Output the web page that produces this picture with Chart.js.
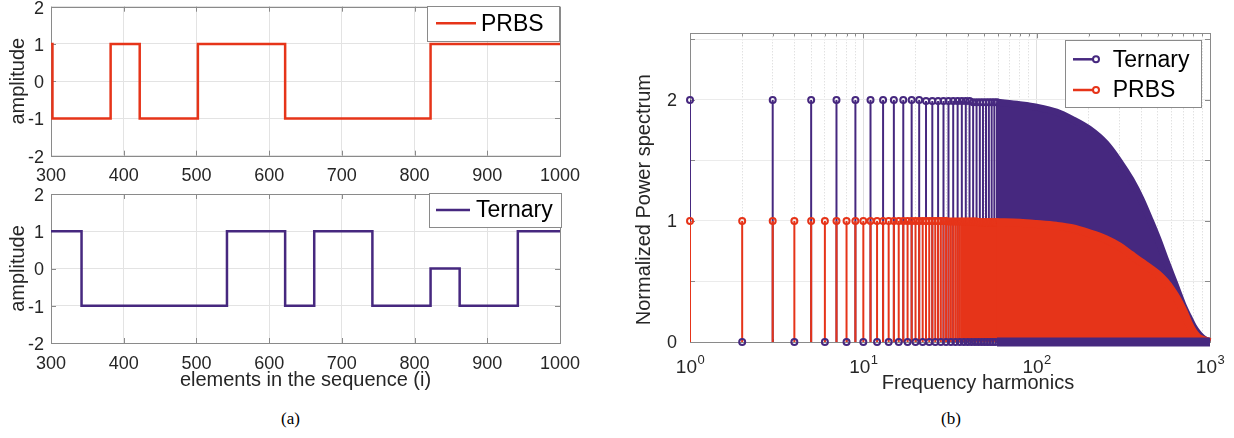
<!DOCTYPE html>
<html>
<head>
<meta charset="utf-8">
<script src="https://cdn.jsdelivr.net/npm/chart.js@4.4.1/dist/chart.umd.min.js"></script>
<style>
  body { margin: 0; background: #fff; width: 1234px; height: 438px; position: relative; overflow: hidden; }
  .pane { position: absolute; }
  .cap { position: absolute; font-family: "Liberation Serif", "Times New Roman", serif; font-size: 17px; color: #000; }
</style>
</head>
<body>
<div class="pane" style="left:0;top:0;width:590px;height:186px"><canvas id="prbsChart"></canvas></div>
<div class="pane" style="left:0;top:186px;width:590px;height:214px"><canvas id="ternaryChart"></canvas></div>
<div class="pane" style="left:600px;top:0;width:634px;height:400px"><canvas id="spectrumChart"></canvas></div>
<div class="cap" style="left:281px;top:409px">(a)</div>
<div class="cap" style="left:941px;top:409px">(b)</div>

<script>
// =======================
// DATA
// =======================
const prbsSwitchX = [300, 302, 382, 422, 502, 622, 822, 1000];
const prbsLevel   = [1, -1, 1, -1, 1, -1, 1, 1];

const ternarySwitchX = [300, 342, 542, 622, 662, 742, 822, 862, 942, 1000];
const ternaryLevel   = [1, -1, 1, -1, 1, -1, 0, -1, 1, 1];

const sequenceTicks  = [300, 400, 500, 600, 700, 800, 900, 1000];
const amplitudeTicks = [-2, -1, 0, 1, 2];

// harmonics where single stems can still be told apart
const lowHarmonics = [
  1, 2, 3, 4, 5, 6, 7, 8, 9, 10,
  11, 12, 13, 14, 15, 16, 17, 18, 19, 20,
  21, 22, 23, 24, 25, 26, 27, 28, 29, 30,
  31, 32, 33, 34, 35, 36, 37, 38, 39, 40,
  41, 42, 43, 44, 45, 46, 47, 48, 49, 50,
  51, 52, 53, 54, 55, 56, 57, 58, 59
];
const ternaryLow = [
  2, 0, 2, 0, 2, 0, 2, 0, 2, 0,
  2, 0, 2, 0, 2, 0, 2, 0, 2, 0,
  2, 0, 1.99, 0, 1.99, 0, 1.99, 0, 1.99, 0,
  1.99, 0, 1.99, 0, 1.99, 0, 1.99, 0, 1.99, 0,
  1.99, 0, 1.98, 0, 1.98, 0, 1.98, 0, 1.98, 0,
  1.98, 0, 1.98, 0, 1.98, 0, 1.98, 0, 1.98
];
const prbsLow = [
  1, 1, 1, 1, 1, 1, 1, 1, 1, 1,
  1, 1, 1, 1, 1, 1, 1, 1, 1, 1,
  1, 1, 1, 1, 1, 1, 1, 1, 1, 1,
  0.995, 0.995, 0.995, 0.995, 0.995, 0.995, 0.995, 0.995, 0.995, 0.995,
  0.995, 0.995, 0.995, 0.995, 0.995, 0.99, 0.99, 0.99, 0.99, 0.99,
  0.99, 0.99, 0.99, 0.99, 0.99, 0.99, 0.99, 0.99, 0.99
];

// dense part: stems merge, read as the envelope of their tops
const envelopeHarmonics = [59, 80, 100, 130, 160, 200, 250, 300, 350, 400, 450, 500, 550, 600, 650, 700, 750, 800, 850, 900, 950, 1000];
const ternaryEnvelope   = [1.98, 1.96, 1.94, 1.90, 1.84, 1.76, 1.64, 1.49, 1.34, 1.18, 1.01, 0.85, 0.69, 0.55, 0.42, 0.30, 0.21, 0.13, 0.075, 0.036, 0.012, 0];
const prbsEnvelope      = [0.99, 0.985, 0.975, 0.96, 0.94, 0.90, 0.85, 0.79, 0.72, 0.66, 0.61, 0.56, 0.50, 0.43, 0.35, 0.26, 0.16, 0.085, 0.04, 0.02, 0.01, 0];
const ternaryEvenLevel  = [0, 0, 0, 0, 0, 0, 0, 0, 0, 0, 0, 0, 0, 0, 0, 0, 0, 0, 0, 0, 0, 0];

const harmonicTicks = [1, 2, 3, 4, 5, 6, 7, 8, 9, 10, 20, 30, 40, 50, 60, 70, 80, 90,
                       100, 200, 300, 400, 500, 600, 700, 800, 900, 1000];
const decadeExponents = [0, 1, 2, 3];
const powerTicks = [0, 0.5, 1, 1.5, 2, 2.5];

// =======================
// STYLE
// =======================
const PURPLE = "#46287f";
const RED = "#e63419";
const GRID = "#e3e3e3";
const FRAME = "#8a8a8a";
const TEXT = "#262626";
const FONT = '"Liberation Sans", Arial, sans-serif';

Chart.defaults.font.family = FONT;
Chart.defaults.color = TEXT;
Chart.defaults.animation = false;

const isDecade = v => Math.abs(Math.log10(v) - Math.round(Math.log10(v))) < 1e-9;

// box round the axes with inward ticks
const axesFrame = {
  id: "axesFrame",
  beforeDatasetsDraw(chart) {
    const { ctx, chartArea: a, scales: { x, y } } = chart;
    const isLog = x.type === "logarithmic";
    ctx.save();
    ctx.strokeStyle = FRAME;
    ctx.lineWidth = 1;
    ctx.strokeRect(Math.round(a.left) + 0.5, Math.round(a.top) + 0.5, Math.round(a.width), Math.round(a.height));
    ctx.beginPath();
    x.ticks.forEach(t => {
      const px = Math.round(x.getPixelForValue(t.value)) + 0.5;
      const len = isLog && !isDecade(t.value) ? 3 : 5;
      ctx.moveTo(px, a.bottom); ctx.lineTo(px, a.bottom - len);
      ctx.moveTo(px, a.top); ctx.lineTo(px, a.top + len);
    });
    y.ticks.forEach(t => {
      const py = Math.round(y.getPixelForValue(t.value)) + 0.5;
      ctx.moveTo(a.left, py); ctx.lineTo(a.left + 5, py);
      ctx.moveTo(a.right, py); ctx.lineTo(a.right - 5, py);
    });
    ctx.stroke();
    ctx.restore();
  }
};

function makeLegend(cfg) {
  return {
    id: "boxLegend",
    afterDraw(chart) {
      const { ctx, chartArea: a } = chart;
      const x = a.right - cfg.right - cfg.width;
      const y = a.top + cfg.top;
      ctx.save();
      ctx.fillStyle = "#fff";
      ctx.fillRect(x, y, cfg.width, cfg.height);
      ctx.strokeStyle = FRAME;
      ctx.lineWidth = 1;
      ctx.strokeRect(Math.round(x) + 0.5, Math.round(y) + 0.5, cfg.width, cfg.height);
      ctx.font = "23px " + FONT;
      ctx.textBaseline = "middle";
      cfg.items.forEach((it, i) => {
        const cy = y + cfg.rowTop + i * cfg.rowGap;
        ctx.strokeStyle = it.color;
        ctx.lineWidth = 2.5;
        ctx.beginPath();
        ctx.moveTo(x + cfg.lineX0, cy);
        ctx.lineTo(x + cfg.lineX1, cy);
        ctx.stroke();
        if (cfg.marker) {
          ctx.lineWidth = 2;
          ctx.fillStyle = "#fff";
          ctx.beginPath();
          ctx.arc(x + cfg.lineX1, cy, 3, 0, Math.PI * 2);
          ctx.fill();
          ctx.stroke();
        }
        ctx.fillStyle = "#000";
        ctx.fillText(it.label, x + cfg.textX, cy + 1);
      });
      ctx.restore();
    }
  };
}

// 10^n labels and axis titles of the spectrum panel
const spectrumText = {
  id: "spectrumText",
  afterDraw(chart) {
    const { ctx, chartArea: a } = chart;
    const xs = chart.scales.x;
    const base = a.bottom + 31;
    ctx.save();
    ctx.fillStyle = TEXT;
    ctx.textBaseline = "alphabetic";
    decadeExponents.forEach(e => {
      const px = xs.getPixelForValue(Math.pow(10, e));
      ctx.font = "19px " + FONT;
      const w1 = ctx.measureText("10").width;
      ctx.font = "13px " + FONT;
      const w2 = ctx.measureText(String(e)).width;
      const x0 = px - (w1 + w2) / 2;
      ctx.font = "19px " + FONT;
      ctx.fillText("10", x0, base);
      ctx.font = "13px " + FONT;
      ctx.fillText(String(e), x0 + w1 + 0.5, base - 9);
    });
    ctx.font = "20px " + FONT;
    ctx.textAlign = "center";
    ctx.textBaseline = "middle";
    ctx.fillText("Frequency harmonics", a.left + a.width / 2 + 28, a.bottom + 41);
    ctx.translate(44.5, a.top + a.height / 2 + 12);
    ctx.rotate(-Math.PI / 2);
    ctx.fillText("Normalized Power spectrum", 0, 0);
    ctx.restore();
  }
};

const toPoints = (xs, ys) => xs.map((x, i) => ({ x, y: ys[i] }));

function stemPoints(ks, vs) {
  const pts = [];
  ks.forEach((k, i) => {
    if (vs[i] > 0) pts.push({ x: k, y: 0 }, { x: k, y: vs[i] }, { x: k, y: null });
  });
  return pts;
}

// =======================
// TIME SIGNALS
// =======================
function stepChart(id, switchX, level, color, legendCfg, withXTitle, xAxisHeight, titlePad) {
  return new Chart(document.getElementById(id), {
    type: "scatter",
    data: {
      datasets: [{
        data: toPoints(switchX, level),
        showLine: true,
        stepped: "before",
        borderColor: color,
        borderWidth: 2.5,
        pointRadius: 0
      }]
    },
    options: {
      responsive: true,
      maintainAspectRatio: false,
      layout: { padding: { top: withXTitle ? 8 : 6.7, right: 30, left: 0, bottom: 0 } },
      plugins: { legend: { display: false }, tooltip: { enabled: false } },
      scales: {
        x: {
          type: "linear",
          min: 300, max: 1000,
          afterBuildTicks: s => { s.ticks = sequenceTicks.map(v => ({ value: v })); },
          afterFit: s => { s.height = xAxisHeight; s.paddingLeft = 0; s.paddingRight = 0; },
          ticks: { padding: 10, autoSkip: false, maxRotation: 0, font: { size: 18 }, callback: v => String(v) },
          grid: { color: GRID, drawTicks: false },
          border: { display: false },
          title: {
            display: withXTitle,
            text: "elements in the sequence (i)",
            font: { size: 20 },
            padding: { top: 0, bottom: titlePad }
          }
        },
        y: {
          min: -2, max: 2,
          afterBuildTicks: s => { s.ticks = amplitudeTicks.map(v => ({ value: v })); },
          afterFit: s => { s.width = 51; s.paddingTop = 0; s.paddingBottom = 0; },
          ticks: { padding: 7, labelOffset: 2, font: { size: 18 }, callback: v => String(v) },
          grid: { color: GRID, drawTicks: false },
          border: { display: false },
          title: { display: true, text: "amplitude", font: { size: 20 }, padding: { top: 6, bottom: 0 } }
        }
      }
    },
    plugins: [axesFrame, makeLegend(legendCfg)]
  });
}

stepChart("prbsChart", prbsSwitchX, prbsLevel, RED, {
  right: 1, top: -1, width: 132, height: 35,
  lineX0: 9, lineX1: 49, textX: 54, rowTop: 17.5, rowGap: 0,
  items: [{ label: "PRBS", color: RED }]
}, false, 30.3, 0);

stepChart("ternaryChart", ternarySwitchX, ternaryLevel, PURPLE, {
  right: -1, top: -1, width: 132, height: 34,
  lineX0: 7, lineX1: 41, textX: 47, rowTop: 17, rowGap: 0,
  items: [{ label: "Ternary", color: PURPLE }]
}, true, 57, 7.6);

// =======================
// POWER SPECTRUM
// =======================
new Chart(document.getElementById("spectrumChart"), {
  type: "scatter",
  data: {
    datasets: [
      { // ternary zeros, merged band
        data: toPoints(envelopeHarmonics, ternaryEvenLevel),
        showLine: true, borderColor: PURPLE, borderWidth: 9, pointRadius: 0, clip: false, order: 0
      },
      { // ternary zeros, single markers
        data: toPoints(lowHarmonics, ternaryLow).filter(p => p.y === 0),
        pointRadius: 3, pointBorderWidth: 2, pointBorderColor: PURPLE,
        pointBackgroundColor: "rgba(255,255,255,0)", clip: false, order: 1
      },
      { // prbs dense stems
        data: toPoints(envelopeHarmonics, prbsEnvelope),
        showLine: true, fill: "origin", backgroundColor: RED, borderColor: RED, borderWidth: 8,
        cubicInterpolationMode: "monotone", pointRadius: 0, clip: false, order: 2
      },
      { // prbs markers
        data: toPoints(lowHarmonics, prbsLow),
        pointRadius: 3, pointBorderWidth: 2, pointBorderColor: RED,
        pointBackgroundColor: "rgba(255,255,255,0)", clip: false, order: 3
      },
      { // prbs stems
        data: stemPoints(lowHarmonics, prbsLow),
        showLine: true, spanGaps: false, borderColor: RED, borderWidth: 2, pointRadius: 0, order: 4
      },
      { // ternary dense stems
        data: toPoints(envelopeHarmonics, ternaryEnvelope),
        showLine: true, fill: "origin", backgroundColor: PURPLE, borderColor: PURPLE, borderWidth: 7,
        cubicInterpolationMode: "monotone", pointRadius: 0, clip: false, order: 5
      },
      { // ternary markers
        data: toPoints(lowHarmonics, ternaryLow).filter(p => p.y > 0),
        pointRadius: 3, pointBorderWidth: 2, pointBorderColor: PURPLE,
        pointBackgroundColor: "rgba(255,255,255,0)", clip: false, order: 6
      },
      { // ternary stems
        data: stemPoints(lowHarmonics, ternaryLow),
        showLine: true, spanGaps: false, borderColor: PURPLE, borderWidth: 2, pointRadius: 0, order: 7
      }
    ]
  },
  options: {
    responsive: true,
    maintainAspectRatio: false,
    layout: { padding: { top: 33.3, right: 24, left: 0, bottom: 0 } },
    plugins: { legend: { display: false }, tooltip: { enabled: false } },
    scales: {
      x: {
        type: "logarithmic",
        min: 1, max: 1000,
        afterBuildTicks: s => { s.ticks = harmonicTicks.map(v => ({ value: v })); },
        afterFit: s => { s.height = 58; s.paddingLeft = 0; s.paddingRight = 0; },
        ticks: { display: false },
        grid: {
          drawTicks: false,
          color: c => (c.tick && isDecade(c.tick.value)) ? "#e0e0e0" : "#d4d4d4"
        },
        border: {
          display: false,
          dash: c => (c.tick && isDecade(c.tick.value)) ? [] : [1, 2]
        }
      },
      y: {
        min: 0, max: 2.55,
        afterBuildTicks: s => { s.ticks = powerTicks.map(v => ({ value: v })); },
        afterFit: s => { s.width = 90; s.paddingTop = 0; s.paddingBottom = 0; },
        ticks: {
          padding: 13, labelOffset: 1, font: { size: 18 },
          callback: v => Number.isInteger(v) ? String(v) : ""
        },
        grid: { color: "#ebebeb", drawTicks: false },
        border: { display: false }
      }
    }
  },
  plugins: [axesFrame, spectrumText, makeLegend({
    right: 9, top: 6.7, width: 136, height: 67,
    lineX0: 8, lineX1: 31, textX: 47.7, rowTop: 19.3, rowGap: 30.7, marker: true,
    items: [{ label: "Ternary", color: PURPLE }, { label: "PRBS", color: RED }]
  })]
});
</script>
</body>
</html>
